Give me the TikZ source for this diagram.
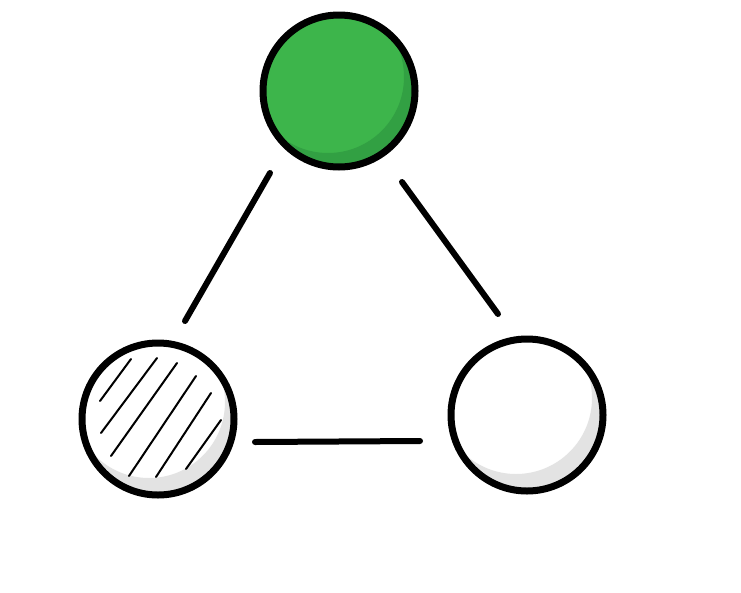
\documentclass[tikz,border=0pt]{standalone}
\usetikzlibrary{calc}
\definecolor{gfill}{HTML}{3DB54B}
\definecolor{gshade}{HTML}{32A043}
\definecolor{lshade}{HTML}{E3E3E3}
\tikzset{
  ball/.style={circle, minimum size=152pt, inner sep=0pt, line width=7pt, draw=black},
  link/.style={line width=6pt, line cap=round, draw=black},
  hatch/.style={line width=2pt, line cap=round, draw=black}
}
\begin{document}
\begin{tikzpicture}[x=1pt,y=-1pt]
\useasboundingbox (0,0) rectangle (741,592);
% top green ball
\begin{scope}
  \clip (339,91) circle (76);
  \fill[gfill] (339,91) circle (76);
  \fill[gshade, even odd rule] (339,91) circle (76) (328,77) circle (76);
\end{scope}
\node[ball] (top) at (339,91) {};
% left hatched ball
\begin{scope}
  \clip (158,419) circle (76);
  \fill[white] (158,419) circle (76);
  \fill[lshade, even odd rule] (158,419) circle (76) (149,402) circle (76);
\end{scope}
\draw[hatch] (100,401) -- (131,359);
\draw[hatch] (101,433) -- (157,358);
\draw[hatch] (111,456) -- (177,363);
\draw[hatch] (129,476) -- (196,376);
\draw[hatch] (156,477) -- (211,393);
\draw[hatch] (186,469) -- (221,420);
\node[ball] (left) at (158,419) {};
% right ball
\begin{scope}
  \clip (527,415) circle (76);
  \fill[white] (527,415) circle (76);
  \fill[lshade, even odd rule] (527,415) circle (76) (516,398) circle (76);
\end{scope}
\node[ball] (right) at (527,415) {};
% connectors
\coordinate (tl) at (270,173);
\coordinate (lt) at (185,321);
\coordinate (tr) at (402,182);
\coordinate (rt) at (498,314);
\coordinate (lr) at (255,442);
\coordinate (rl) at (420,441);
\draw[link] (tl) -- (lt);
\draw[link] (tr) -- (rt);
\draw[link] (lr) -- (rl);
\end{tikzpicture}
\end{document}
